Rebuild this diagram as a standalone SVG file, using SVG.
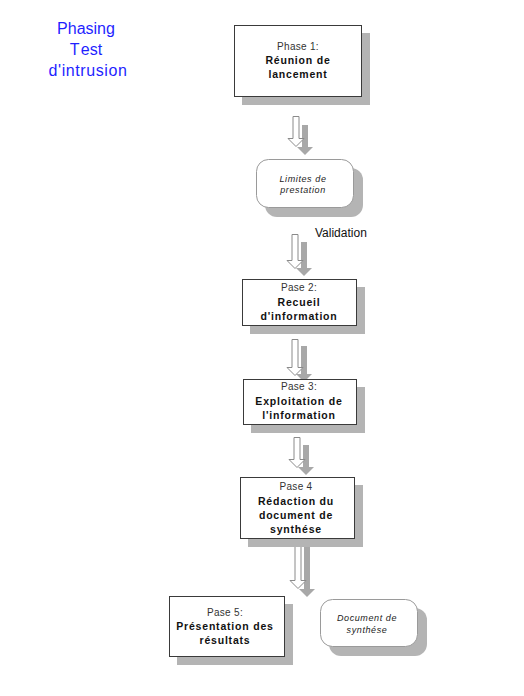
<svg xmlns="http://www.w3.org/2000/svg" xmlns:xlink="http://www.w3.org/1999/xlink" width="524" height="696" viewBox="0 0 524 696">
<style>
.bg{fill:#ffffff}
.title{font-family:"Liberation Sans",Arial,sans-serif;font-size:16px;fill:#1f1fff;text-anchor:middle}
.shadow{fill:#b4b4b4}
.box{fill:#ffffff;stroke:#3a3a3a;stroke-width:1}
.rbox{fill:#ffffff;stroke:#9a9a9a;stroke-width:1}
.lbl{font-family:"Liberation Sans",Arial,sans-serif;font-size:10px;text-anchor:middle;letter-spacing:0.3px}
.n{fill:#333333}
.b{font-weight:bold;fill:#111111;font-size:10.5px;letter-spacing:0.8px}
.it{font-style:italic;font-size:9px;fill:#222222;letter-spacing:0.6px}
.val{font-family:"Liberation Sans",Arial,sans-serif;font-size:12px;fill:#111111}
.arw{fill:#ffffff;stroke:#8a8a8a;stroke-width:1}
.arws{fill:#a8a8a8}
</style>
<defs>
<path id="a30" d="M-3,0 H3 V22 H8 L0,30 L-8,22 H-3 Z"/>
<path id="a34" d="M-3,0 H3 V26 H8 L0,34 L-8,26 H-3 Z"/>
<path id="a36" d="M-3,0 H3 V28 H8 L0,36 L-8,28 H-3 Z"/>
<path id="a50" d="M-3,0 H3 V42 H8 L0,50 L-8,42 H-3 Z"/>
</defs>
<rect class="bg" x="0" y="0" width="524" height="696"/>

<g id="title">
<text class="title" x="86" y="34">Phasing</text>
<text class="title" x="86" y="55"><tspan>T</tspan><tspan dx="3">est</tspan></text>
<text class="title" x="88" y="76" letter-spacing="0.6">d'intrusion</text>
</g>

<g id="connectors">
<use href="#a30" xlink:href="#a30" class="arws" transform="translate(305,125)"/>
<use href="#a30" xlink:href="#a30" class="arw" transform="translate(296,116.5)"/>
<use href="#a34" xlink:href="#a34" class="arws" transform="translate(304,242)"/>
<use href="#a34" xlink:href="#a34" class="arw" transform="translate(295,234.5)"/>
<use href="#a36" xlink:href="#a36" class="arws" transform="translate(304,346)"/>
<use href="#a36" xlink:href="#a36" class="arw" transform="translate(295,339.5)"/>
<use href="#a30" xlink:href="#a30" class="arws" transform="translate(306,445)"/>
<use href="#a30" xlink:href="#a30" class="arw" transform="translate(297,437.5)"/>
<use href="#a50" xlink:href="#a50" class="arws" transform="translate(307,547)"/>
<use href="#a50" xlink:href="#a50" class="arw" transform="translate(298,538.5)"/>
<text class="val" x="315" y="237">Validation</text>
</g>

<g id="phase1">
<rect class="shadow" x="242" y="33" width="128" height="72"/>
<rect class="box" x="234.5" y="25.5" width="127" height="71"/>
<text class="lbl n" x="298" y="50">Phase 1:</text>
<text class="lbl b" x="298" y="64">Réunion de</text>
<text class="lbl b" x="298" y="78">lancement</text>
</g>

<g id="limites">
<rect class="shadow" x="265" y="168" width="98" height="49" rx="12"/>
<rect class="rbox" x="256.5" y="159.5" width="97" height="48" rx="12"/>
<text class="lbl it" x="303" y="182">Limites de</text>
<text class="lbl it" x="303" y="193">prestation</text>
</g>

<g id="phase2">
<rect class="shadow" x="250" y="287" width="115" height="47"/>
<rect class="box" x="242.5" y="279.5" width="114" height="46"/>
<text class="lbl n" x="299" y="291">Pase 2:</text>
<text class="lbl b" x="299" y="305.5">Recueil</text>
<text class="lbl b" x="299" y="320">d'information</text>
</g>

<g id="phase3">
<rect class="shadow" x="251" y="387" width="114" height="46"/>
<rect class="box" x="243.5" y="379.5" width="113" height="45"/>
<text class="lbl n" x="299" y="390">Pase 3:</text>
<text class="lbl b" x="299" y="405">Exploitation de</text>
<text class="lbl b" x="299" y="419">l'information</text>
</g>

<g id="phase4">
<rect class="shadow" x="248" y="485" width="115" height="62"/>
<rect class="box" x="240.5" y="477.5" width="114" height="61"/>
<text class="lbl n" x="296" y="490">Pase 4</text>
<text class="lbl b" x="296" y="505">Rédaction du</text>
<text class="lbl b" x="296" y="518.5">document de</text>
<text class="lbl b" x="296" y="533">synthése</text>
</g>

<g id="phase5">
<rect class="shadow" x="177" y="604" width="116" height="61"/>
<rect class="box" x="169.5" y="596.5" width="115" height="60"/>
<text class="lbl n" x="225" y="615.5">Pase 5:</text>
<text class="lbl b" x="225" y="630">Présentation des</text>
<text class="lbl b" x="225" y="644">résultats</text>
</g>

<g id="document">
<rect class="shadow" x="329" y="608" width="98" height="48" rx="12"/>
<rect class="rbox" x="320.5" y="599.5" width="97" height="47" rx="12"/>
<text class="lbl it" x="367" y="621">Document de</text>
<text class="lbl it" x="367" y="633">synthése</text>
</g>
</svg>
